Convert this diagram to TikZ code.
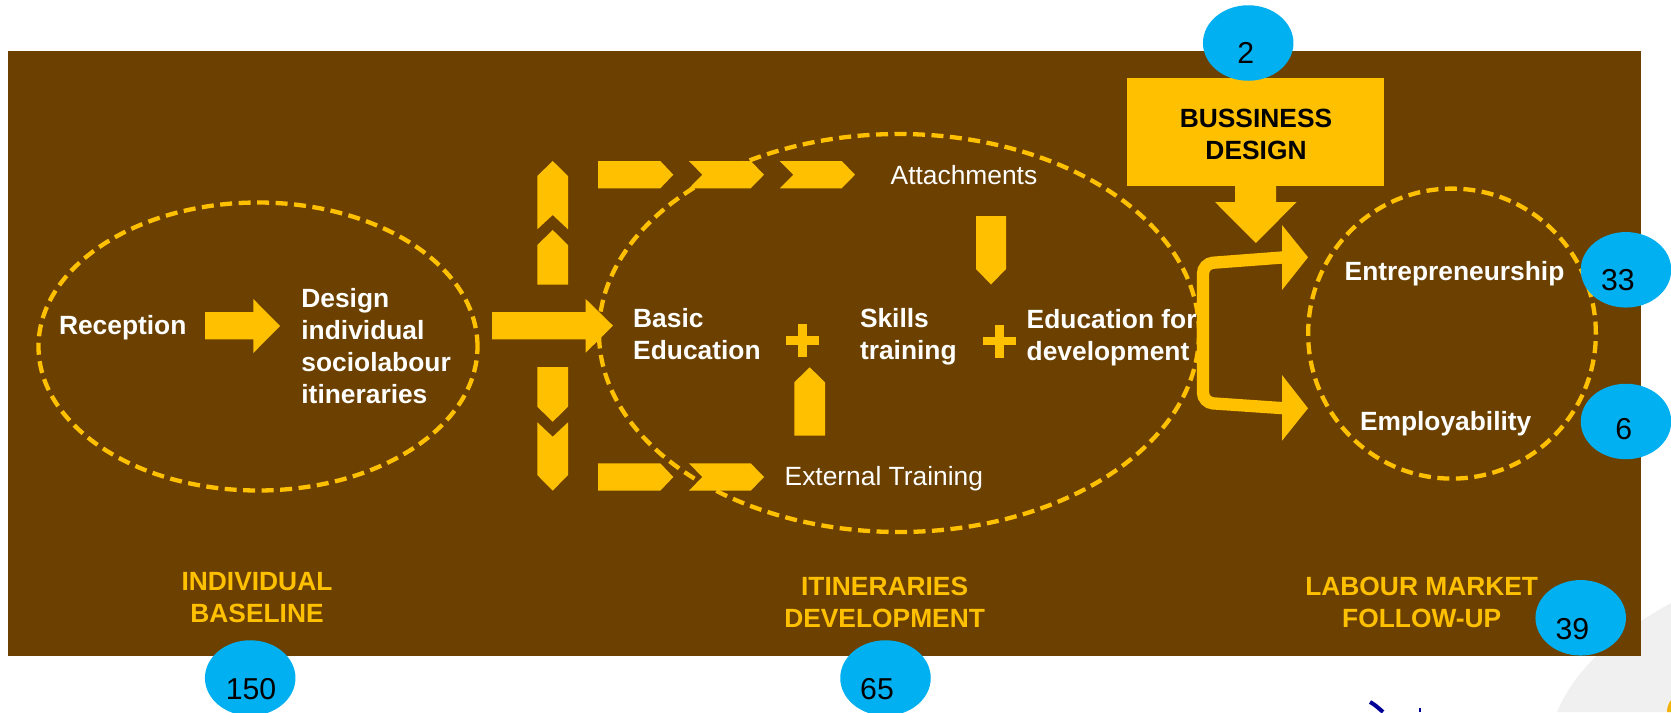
\documentclass[tikz,border=0pt]{standalone}
\usepackage{fontspec}
\setmainfont{Liberation Sans}
\usetikzlibrary{shapes}
\definecolor{brownbg}{HTML}{6C4100}
\definecolor{amber}{HTML}{FFC000}
\definecolor{skyblue}{HTML}{00B0F0}

\begin{document}
\begin{tikzpicture}
\tikzset{
  block/.style={fill=amber},
  ring/.style={draw=amber,line width=0.043cm,dash pattern=on 0.12cm off 0.065cm},
  oval/.style={ellipse,fill=skyblue,inner sep=0pt,minimum width=0.905cm,minimum height=0.755cm},
  num/.style={inner sep=0pt,font=\fontsize{8.6}{10}\selectfont},
  lbl/.style={inner sep=0pt,anchor=base west,align=left,text=white,font=\fontsize{7.5}{9.1}\selectfont\bfseries},
  thin lbl/.style={lbl,font=\fontsize{7.5}{9.1}\selectfont},
  stage/.style={inner sep=0pt,anchor=base,align=center,text=amber,font=\fontsize{7.5}{9.1}\selectfont\bfseries},
  plus/.style={draw=amber,line width=0.087cm}
}
\useasboundingbox (0,0) rectangle (16.71,7.12);

% swoosh and logo under the panel
\fill[gray!12] (15.57,0) .. controls (15.75,0.42) and (16.1,0.75) .. (16.71,1.09) -- (16.71,0) -- cycle;
\fill[amber!80!brown] (16.71,0.12) .. controls (16.68,0.08) and (16.67,0.04) .. (16.67,0) -- (16.71,0) -- cycle;
\draw[blue!60!black,line width=0.04cm] (13.7,0.1) .. controls (13.75,0.07) .. (13.83,0);
\draw[blue!60!black,line width=0.02cm] (14.2,0.04) -- (14.2,0);

% panel
\fill[brownbg] (0.08,0.56) rectangle (16.41,6.61);

% dashed rings
\node[ring,ellipse,inner sep=0pt,minimum width=4.39cm,minimum height=2.88cm] (baseline) at (2.58,3.655) {};
\node[ring,ellipse,inner sep=0pt,minimum width=6cm,minimum height=3.98cm] (itinerary) at (8.99,3.79) {};
\node[ring,ellipse,inner sep=0pt,minimum width=2.877cm,minimum height=2.9cm] (market) at (14.52,3.784) {};

% block arrows left part
\fill[block] (2.05,4) -- (2.533,4) -- (2.533,4.13) -- (2.8,3.86) -- (2.533,3.59) -- (2.533,3.727) -- (2.05,3.727) -- cycle;
\fill[block] (4.92,4) -- (5.857,4) -- (5.857,4.13) -- (6.13,3.863) -- (5.857,3.593) -- (5.857,3.727) -- (4.92,3.727) -- cycle;
\fill[block] (5.527,5.51) -- (5.68,5.36) -- (5.68,4.827) -- (5.527,4.97) -- (5.373,4.827) -- (5.373,5.36) -- cycle;
\fill[block] (5.527,4.82) -- (5.68,4.67) -- (5.68,4.273) -- (5.373,4.273) -- (5.373,4.67) -- cycle;
\fill[block] (5.373,3.45) -- (5.68,3.45) -- (5.68,3.053) -- (5.527,2.903) -- (5.373,3.053) -- cycle;
\fill[block] (5.373,2.897) -- (5.527,2.753) -- (5.68,2.897) -- (5.68,2.37) -- (5.527,2.213) -- (5.373,2.37) -- cycle;

% top row
\fill[block] (5.98,5.51) -- (6.603,5.51) -- (6.733,5.373) -- (6.603,5.237) -- (5.98,5.237) -- cycle;
\fill[block] (6.89,5.51) -- (7.507,5.51) -- (7.64,5.373) -- (7.507,5.237) -- (6.89,5.237) -- (7.023,5.373) -- cycle;
\fill[block] (7.797,5.51) -- (8.417,5.51) -- (8.55,5.373) -- (8.417,5.237) -- (7.797,5.237) -- (7.933,5.373) -- cycle;
% bottom row
\fill[block] (5.98,2.487) -- (6.603,2.487) -- (6.733,2.35) -- (6.603,2.213) -- (5.98,2.213) -- cycle;
\fill[block] (6.89,2.487) -- (7.507,2.487) -- (7.64,2.35) -- (7.507,2.213) -- (6.89,2.213) -- (7.023,2.35) -- cycle;
% inner arrows
\fill[block] (8.097,3.447) -- (8.25,3.297) -- (8.25,2.763) -- (7.943,2.763) -- (7.943,3.297) -- cycle;
\fill[block] (9.76,4.96) -- (10.06,4.96) -- (10.06,4.43) -- (9.91,4.275) -- (9.76,4.43) -- cycle;
% plus signs
\draw[plus] (7.86,3.713) -- (8.186,3.713) (8.023,3.55) -- (8.023,3.876);
\draw[plus] (9.831,3.71) -- (10.161,3.71) (9.996,3.545) -- (9.996,3.875);

% labels
\node[lbl] (reception) at (0.583,3.778) {Reception};
\node[lbl] (design) at (3.007,3.081) {Design\\individual\\sociolabour\\itineraries};
\node[lbl] (basic) at (6.325,3.525) {Basic\\Education};
\node[lbl] (skills) at (8.593,3.525) {Skills\\training};
\node[lbl] (develop) at (10.26,3.518) {Education for\\development};
\node[thin lbl] (attach) at (8.9,5.278) {Attachments};
\node[thin lbl] (external) at (7.84,2.268) {External Training};
\node[lbl] (entre) at (13.44,4.32) {Entrepreneurship};
\node[lbl] (employ) at (13.593,2.813) {Employability};
\node[stage] (stage1) at (2.57,0.9) {INDIVIDUAL\\BASELINE};
\node[stage] (stage2) at (8.846,0.845) {ITINERARIES\\DEVELOPMENT};
\node[stage] (stage3) at (14.217,0.847) {LABOUR MARKET\\FOLLOW-UP};

% business box
\fill[block] (12.35,5.3) -- (12.76,5.3) -- (12.76,5.1) -- (12.966,5.1) -- (12.559,4.69) -- (12.15,5.1) -- (12.35,5.1) -- cycle;
\node[block,inner sep=0pt,minimum width=2.57cm,minimum height=1.074cm] (business) at (12.555,5.8) {};
\node[stage,text=black] (bussiness) at (12.56,5.527) {BUSSINESS\\DESIGN};

% bracket
\coordinate (upper) at (12.85,4.547);
\coordinate (lower) at (12.85,3.037);
\draw[amber,line width=0.123cm,rounded corners=0.1cm] (upper) -- (12.03,4.485) -- (12.03,3.093) -- (lower);
\fill[block] (12.82,4.87) -- (13.08,4.547) -- (12.82,4.22) -- cycle;
\fill[block] (12.82,3.37) -- (13.08,3.037) -- (12.82,2.713) -- cycle;

% counts
\node[oval] (o2) at (12.482,6.69) {};
\node[oval] (o33) at (16.26,4.422) {};
\node[oval] (o6) at (16.26,2.905) {};
\node[oval] (o39) at (15.807,0.942) {};
\node[oval] (o150) at (2.502,0.34) {};
\node[oval] (o65) at (8.855,0.34) {};
\node[num] (t2) at (12.457,6.59) {2};
\node[num] (t33) at (16.179,4.32) {33};
\node[num] (t6) at (16.237,2.825) {6};
\node[num] (t39) at (15.723,0.825) {39};
\node[num] (t150) at (2.51,0.23) {150};
\node[num] (t65) at (8.77,0.23) {65};
\end{tikzpicture}
\end{document}
